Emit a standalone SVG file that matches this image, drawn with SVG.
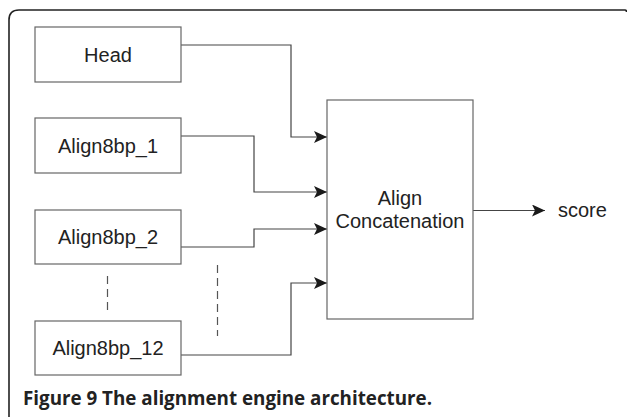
<svg xmlns="http://www.w3.org/2000/svg" width="627" height="417" viewBox="0 0 627 417">
  <defs>
    <marker id="arrow" viewBox="0 0 13 12" refX="13" refY="6" markerWidth="13" markerHeight="12" markerUnits="userSpaceOnUse" orient="auto">
      <path d="M0,0 L13,6 L0,12 L3,6 Z" fill="#1a1a1a"/>
    </marker>
    <style>
      .box { fill: #fff; stroke: #666; stroke-width: 1.2; }
      .label { font-family: "Liberation Sans", Arial, sans-serif; font-size: 20px; fill: #222; text-anchor: middle; }
      .wire { fill: none; stroke: #444; stroke-width: 1.2; }
      .dash { fill: none; stroke: #555; stroke-width: 1.2; stroke-dasharray: 8 5; }
      .frame { fill: none; stroke: #222; stroke-width: 1.6; }
      .caption { font-family: "Open Sans", "Liberation Sans", sans-serif; font-weight: bold; font-size: 18.8px; fill: #222; }
    </style>
  </defs>
  <rect width="627" height="417" fill="#fff"/>

  <!-- figure frame: top and left rules with rounded corner -->
  <path class="frame" d="M9,417 L9,20 Q9,10 19,10 L625,10 Q626.5,10 626.5,12"/>

  <!-- connectors -->
  <g id="connectors">
    <path class="wire" d="M181,45 H291 V137 H327" marker-end="url(#arrow)"/>
    <path class="wire" d="M181,136 H254 V192 H327" marker-end="url(#arrow)"/>
    <path class="wire" d="M181,247 H254 V229 H327" marker-end="url(#arrow)"/>
    <path class="wire" d="M181,355 H291 V283 H327" marker-end="url(#arrow)"/>
    <path class="wire" d="M473,210.5 H545" marker-end="url(#arrow)"/>
    <path class="dash" d="M107.5,276 V310"/>
    <path class="dash" d="M217.5,265 V336"/>
  </g>

  <g id="head">
    <rect class="box" x="35" y="27" width="146" height="55"/>
    <text class="label" x="108" y="62">Head</text>
  </g>
  <g id="align8bp_1">
    <rect class="box" x="35" y="118" width="146" height="55"/>
    <text class="label" x="108" y="153">Align8bp_1</text>
  </g>
  <g id="align8bp_2">
    <rect class="box" x="35" y="210" width="146" height="54"/>
    <text class="label" x="108" y="244">Align8bp_2</text>
  </g>
  <g id="align8bp_12">
    <rect class="box" x="35" y="321" width="146" height="54"/>
    <text class="label" x="108" y="355">Align8bp_12</text>
  </g>
  <g id="align_concatenation">
    <rect class="box" x="327" y="100" width="146" height="219"/>
    <text class="label" x="400" y="205">Align</text>
    <text class="label" x="400" y="228">Concatenation</text>
  </g>
  <g id="score">
    <text class="label" x="558" y="217" style="text-anchor:start">score</text>
  </g>

  <text class="caption" x="23" y="405">Figure 9 The alignment engine architecture.</text>
</svg>
